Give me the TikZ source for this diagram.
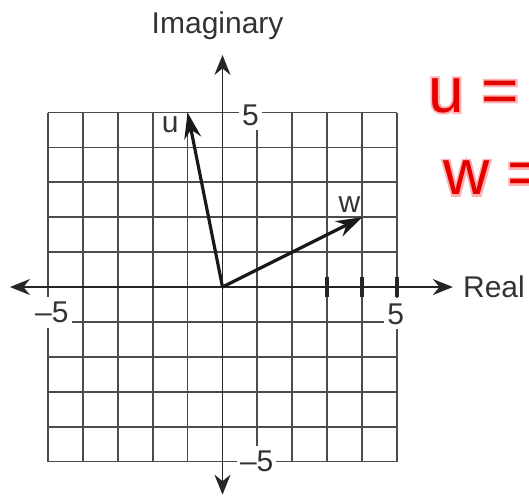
\documentclass[tikz,border=0pt]{standalone}
\usepackage{fontspec}
\setmainfont{Liberation Sans}
\newfontfamily\halofont[FakeBold=6]{Liberation Sans}
\usetikzlibrary{arrows.meta}
\begin{document}
\begin{tikzpicture}[x=34.9pt,y=34.9pt,
  gridline/.style={line width=1.8pt, draw=black!70},
  axisline/.style={line width=1.8pt, draw=black!85, {Stealth[length=20pt,width=16pt]}-{Stealth[length=20pt,width=16pt]}},
  vec/.style={line width=3.2pt, draw=black!90, -{Stealth[length=26pt,width=17pt]}},
  lbl/.style={font=\fontsize{30}{36}\selectfont, text=black!80, inner sep=1pt},
  numlbl/.style={lbl, fill=white, inner xsep=3pt, inner ysep=5pt},
  tickmark/.style={line width=3.5pt, draw=black!85},
  hand/.style={font=\fontsize{64}{70}\selectfont, text=red!90!black, inner sep=0pt},
  halo/.style={font=\halofont\fontsize{64}{70}\selectfont, text=red!30, inner sep=0pt}
]
\useasboundingbox (-6.375,-6.017) rectangle (8.782,8.224);
% grid
\draw[gridline, step=1] (-5,-5) grid (5,5);
% numeric labels
\node[numlbl] (top5) at (0.8,4.93) {5};
\node[numlbl] (bot5) at (0.98,-5) {\textendash5};
\node[numlbl] (left5) at (-4.89,-0.72) {\textendash5};
\node[numlbl] (right5) at (4.96,-0.77) {5};
% axes
\coordinate (xl) at (-6.09,0);
\coordinate (xr) at (6.6,0);
\coordinate (yt) at (0,6.65);
\coordinate (yb) at (0,-5.95);
\draw[axisline] (xl) -- (xr);
\draw[axisline] (yb) -- (yt);
% ticks
\foreach \t in {3,4,5} {
  \coordinate (ta\t) at (\t,0.3);
  \coordinate (tb\t) at (\t,-0.3);
  \draw[tickmark] (ta\t) -- (tb\t);
}
% axis names
\node[lbl, anchor=base] (imag) at (-0.14,7.25) {Imaginary};
\node[lbl, anchor=base west] (real) at (6.86,-0.29) {Real};
% vectors
\coordinate (O) at (0,0);
\coordinate (U) at (-1,5);
\coordinate (W) at (4,2);
\draw[vec] (O) -- (U);
\draw[vec] (O) -- (W);
\node[lbl] (ulbl) at (-1.5,4.64) {u};
\node[lbl] (wlbl) at (3.64,2.35) {w};
% handwritten notes
\node[halo, anchor=base west] (uhalo) at (5.89,5.01) {u =};
\node[halo, anchor=base west] (whalo) at (6.32,2.64) {w =};
\node[hand, anchor=base west] (ueq) at (5.89,5.01) {u =};
\node[hand, anchor=base west] (weq) at (6.32,2.64) {w =};
\end{tikzpicture}
\end{document}
